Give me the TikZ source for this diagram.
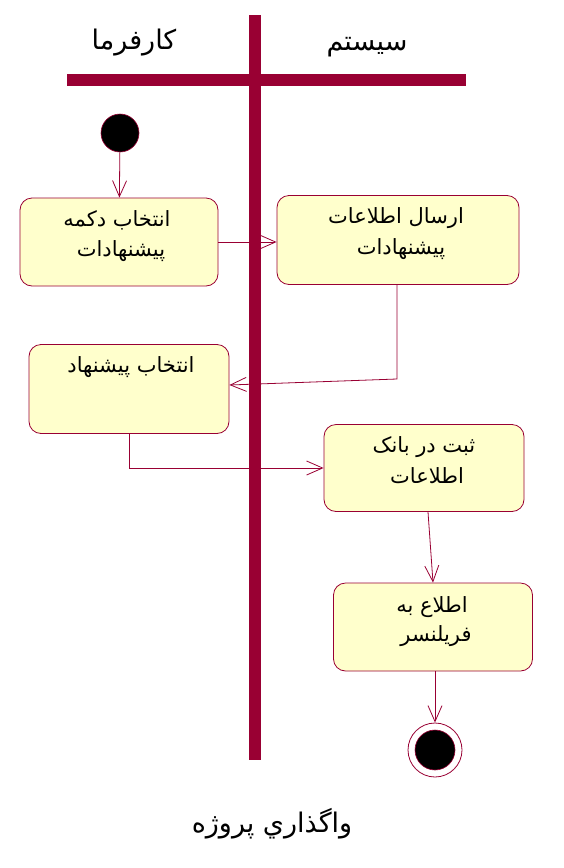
\documentclass[tikz,border=0pt]{standalone}
\usepackage{fontspec}
\newfontfamily\arabicfont[Script=Arabic]{DejaVu Sans}
\TeXXeTstate=1
\usetikzlibrary{arrows.meta}
\definecolor{umlred}{RGB}{153,0,51}
\definecolor{umlfill}{RGB}{255,255,204}
\begin{document}
\begin{tikzpicture}[x=1pt,y=-1pt,
  act/.style={draw=umlred, fill=umlfill, rounded corners=12pt, line width=0.8pt, inner sep=0pt},
  txt/.style={font=\arabicfont\fontsize{21}{24}\selectfont, inner sep=0pt, anchor=base},
  head/.style={font=\arabicfont\fontsize{27}{30}\selectfont, inner sep=0pt, anchor=base},
  flow/.style={draw=umlred, line width=0.8pt, -{Straight Barb[length=16pt,width=14pt,line width=0.8pt]}},
  lane/.style={fill=umlred, draw=none}
]
\useasboundingbox (0,0) rectangle (564,868);
% swimlane bars
\path[lane] (249,15) rectangle (261,760);
\path[lane] (67,74) rectangle (466,86);
% lane titles
\node[head] (t1) at (134,49) {\beginR کارفرما\endR};
\node[head] (t2) at (367,50) {\beginR سیستم\endR};
% start / end
\node[circle, fill=black, draw=umlred, line width=0.6pt, minimum size=38pt, inner sep=0pt] (start) at (120,133) {};
\node[circle, fill=white, draw=umlred, line width=0.8pt, minimum size=54pt, inner sep=0pt] (stop) at (435,750) {};
\node[circle, fill=black, draw=umlred, line width=0.6pt, minimum size=40pt, inner sep=0pt] (stopin) at (stop) {};
% activity boxes
\node[act, minimum width=198pt, minimum height=88pt] (b1) at (119,242) {};
\node[act, minimum width=242pt, minimum height=89pt] (b2) at (398,240) {};
\node[act, minimum width=200pt, minimum height=89pt] (b3) at (129,389) {};
\node[act, minimum width=200pt, minimum height=87pt] (b4) at (424,468) {};
\node[act, minimum width=199pt, minimum height=88pt] (b5) at (433,627) {};
% texts
\node[txt] (b1a) at (117,226) {\beginR انتخاب دکمه\endR};
\node[txt] (b1b) at (121,256) {\beginR پیشنهادات\endR};
\node[txt] (b2a) at (396,223) {\beginR ارسال اطلاعات\endR};
\node[txt] (b2b) at (401,254) {\beginR پیشنهادات\endR};
\node[txt] (b3a) at (131,372) {\beginR انتخاب پیشنهاد\endR};
\node[txt] (b4a) at (424,452) {\beginR ثبت در بانک\endR};
\node[txt] (b4b) at (427,483) {\beginR اطلاعات\endR};
\node[txt] (b5a) at (432,612) {\beginR اطلاع به\endR};
\node[txt] (b5b) at (436,641) {\beginR فریلنسر\endR};
\node[head] (cap) at (272,832) {\beginR واگذاري پروژه\endR};
% flows
\coordinate (k1) at (397,379);
\draw[flow] (start) -- (b1);
\draw[flow] (b1.east) -- (b1.east -| b2.west);
\draw[flow] (b2.south -| k1) -- (k1) -- ([yshift=4pt]b3.east);
\draw[flow] (b3.south) |- (b4.west);
\draw[flow] ([xshift=4pt]b4.south) -- (b5.north);
\draw[flow] (b5.south -| stop) -- (stop);
\end{tikzpicture}
\end{document}
